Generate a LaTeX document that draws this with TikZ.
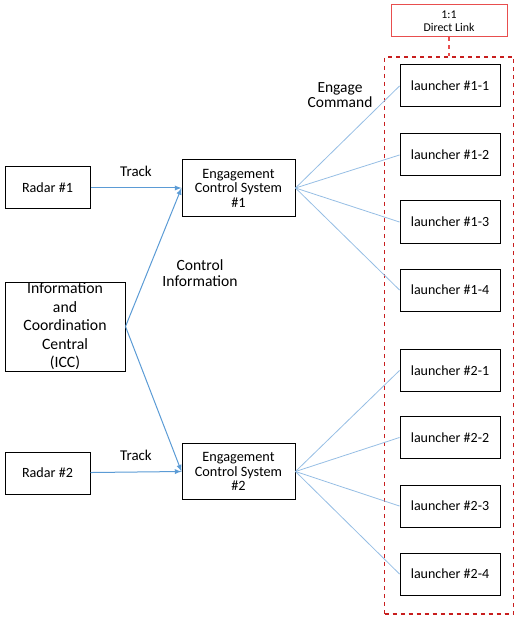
\documentclass[tikz,border=0pt]{standalone}
\usepackage{fontspec}
\setmainfont{Carlito}
\usetikzlibrary{arrows,positioning}

\definecolor{trackblue}{RGB}{91,155,213}
\definecolor{cmdblue}{RGB}{150,190,228}
\definecolor{linkred}{RGB}{232,78,78}
\definecolor{groupred}{RGB}{200,30,30}

\tikzset{
  box/.style={draw, line width=0.75pt, align=center, inner sep=0pt},
  radar/.style={box, minimum width=63.75pt, minimum height=31.5pt, font=\fontsize{10.6}{12}\selectfont},
  ecs/.style={box, minimum width=84.75pt, minimum height=42pt, font=\fontsize{10.7}{10.9}\selectfont},
  icc/.style={box, minimum width=90pt, minimum height=66.75pt, font=\fontsize{11.8}{13.9}\selectfont},
  launcher/.style={box, minimum width=75pt, minimum height=31.5pt, font=\fontsize{10.5}{12}\selectfont},
  linkbox/.style={box, draw=linkred, minimum width=87pt, minimum height=24pt, font=\fontsize{8.9}{9.8}\selectfont},
  label/.style={align=center, font=\fontsize{11.2}{12}\selectfont},
  track/.style={->, draw=trackblue, line width=0.75pt},
  cmd/.style={draw=cmdblue, line width=0.6pt}
}

\begin{document}
\begin{tikzpicture}[x=0.75pt,y=-0.75pt,>=latex]
\useasboundingbox (0,0) rectangle (519,620);

\node[radar] (radarA) at (47.5,188) {Radar \#1};
\node[radar] (radarB) at (47.5,473) {Radar \#2};
\node[icc] (icc) at (65,326.5) {Information\\and\\Coordination\\Central\\(ICC)};
\node[ecs] (ecsA) at (238.5,188) {Engagement\\Control System\\\#1};
\node[ecs] (ecsB) at (238.5,471.5) {Engagement\\Control System\\\#2};

\node[launcher] (lA1) at (450,86) {launcher \#1-1};
\node[launcher] (lA2) at (450,155) {launcher \#1-2};
\node[launcher] (lA3) at (450,222) {launcher \#1-3};
\node[launcher] (lA4) at (450,290) {launcher \#1-4};
\node[launcher] (lB1) at (450,370.5) {launcher \#2-1};
\node[launcher] (lB2) at (450,437.5) {launcher \#2-2};
\node[launcher] (lB3) at (450,506) {launcher \#2-3};
\node[launcher] (lB4) at (450,574) {launcher \#2-4};

% launcher group
\node[draw=groupred, line width=1pt, dashed, minimum width=96.75pt, minimum height=417.75pt] (group) at (449,335.5) {};
\node[linkbox] (link) at (449,21) {1:1\\Direct Link};
\draw[draw=linkred, line width=1pt, dashed] (link) -- (group);

% track and control information
\path (radarA) edge[track] node[label, above=5pt] {Track} (ecsA.west)
      (radarB) edge[track] node[label, above=5pt] {Track} (ecsB.west)
      (icc.east) edge[track] (ecsA.west)
                 edge[track] (ecsB.west);
\node[label, font=\fontsize{11.7}{12}\selectfont] (ctrl) at (200,273) {Control\\Information};

% engage command
\path (ecsA.east) edge[cmd] (lA1.west) edge[cmd] (lA2.west)
                  edge[cmd] (lA3.west) edge[cmd] (lA4.west)
      (ecsB.east) edge[cmd] (lB1.west) edge[cmd] (lB2.west)
                  edge[cmd] (lB3.west) edge[cmd] (lB4.west);
\node[label, font=\fontsize{11.6}{11.8}\selectfont] (engage) at (340,95) {Engage\\Command};

\end{tikzpicture}
\end{document}
